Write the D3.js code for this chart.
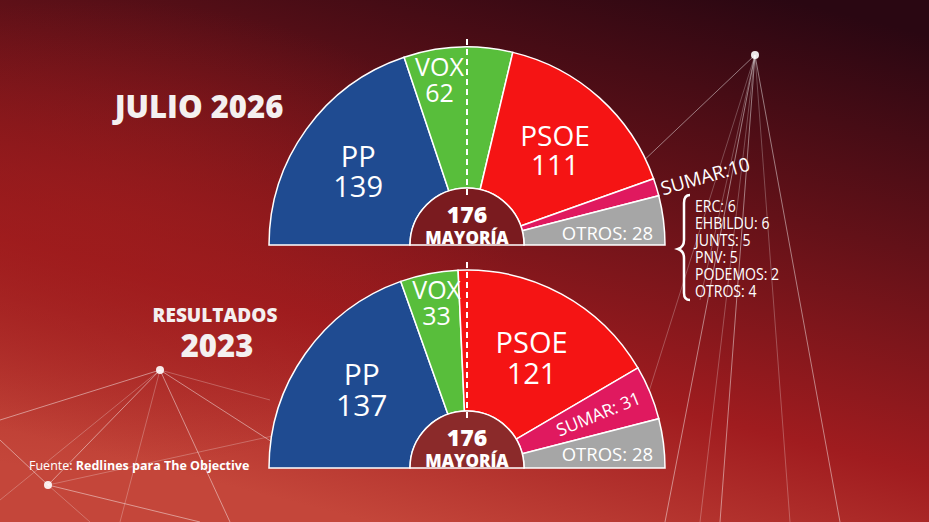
<!DOCTYPE html>
<html>
<head>
<meta charset="utf-8">
<script src="https://cdn.jsdelivr.net/npm/d3@7"></script>
<style>
  body { margin: 0; background: #5a1016; }
  svg { display: block; font-family: "Open Sans", sans-serif; }
</style>
</head>
<body>
<div id="chart"></div>
<script>
// seats per party, left to right around the hemicycle
var parties = ["PP", "VOX", "PSOE", "SUMAR", "OTROS"];
var colors = ["#1f4b91", "#58be3b", "#f51414", "#e0195f", "#a6a6a6"];
var seats2026 = [139, 62, 111, 10, 28];
var seats2023 = [137, 33, 121, 31, 28];
var majority = 176;

// breakdown of "OTROS" in the 2026 estimate
var otrosNames = ["ERC", "EHBILDU", "JUNTS", "PNV", "PODEMOS", "OTROS"];
var otrosSeats = [6, 6, 5, 5, 2, 4];

var svgWidth = 929;
var svgHeight = 522;

var svg = d3.select("#chart")
    .append("svg")
    .attr("width", svgWidth)
    .attr("height", svgHeight);

// background
var defs = svg.append("defs");
var bg = defs.append("linearGradient")
    .attr("id", "bg")
    .attr("x1", "0.85").attr("y1", "0")
    .attr("x2", "0.4").attr("y2", "1");
bg.append("stop").attr("offset", "0").attr("stop-color", "#2a0712");
bg.append("stop").attr("offset", "0.35").attr("stop-color", "#631118");
bg.append("stop").attr("offset", "0.7").attr("stop-color", "#a01c1f");
bg.append("stop").attr("offset", "1").attr("stop-color", "#c4463a");

var glow = defs.append("radialGradient")
    .attr("id", "glow")
    .attr("cx", "0.1").attr("cy", "0.45").attr("r", "0.45");
glow.append("stop").attr("offset", "0").attr("stop-color", "#9e1c1c").attr("stop-opacity", 0.7);
glow.append("stop").attr("offset", "1").attr("stop-color", "#9e1c1c").attr("stop-opacity", 0);

svg.append("rect").attr("width", svgWidth).attr("height", svgHeight).attr("fill", "url(#bg)");
svg.append("rect").attr("width", svgWidth).attr("height", svgHeight).attr("fill", "url(#glow)");

// decorative network lines
var net = svg.append("g").attr("stroke", "#ffffff").attr("fill", "none");
var hubs = [
    {x: 755, y: 55, ends: [[560, 240], [640, 420], [665, 522], [700, 522], [720, 522], [790, 522], [840, 522], [700, 300]]},
    {x: 160, y: 370, ends: [[0, 420], [0, 500], [48, 485], [270, 400], [230, 522], [120, 522], [300, 460]]},
    {x: 48, y: 485, ends: [[0, 440], [90, 522], [200, 522], [300, 430]]}
];
hubs.forEach(function(h) {
    h.ends.forEach(function(e, i) {
        net.append("line")
            .attr("x1", h.x).attr("y1", h.y)
            .attr("x2", e[0]).attr("y2", e[1])
            .attr("stroke-opacity", i % 2 ? 0.25 : 0.45)
            .attr("stroke-width", 1);
    });
    net.append("circle").attr("cx", h.x).attr("cy", h.y).attr("r", 4)
        .attr("fill", "#ffffff").attr("stroke", "none").attr("opacity", 0.9);
});

var outerR = 198;
var innerR = 57;

var pie = d3.pie()
    .sort(null)
    .value(d => d.seats)
    .startAngle(-Math.PI / 2)
    .endAngle(Math.PI / 2);

var arc = d3.arc()
    .innerRadius(innerR)
    .outerRadius(outerR);

function drawHemicycle(cx, cy, values, opts) {
    var g = svg.append("g").attr("transform", `translate(${cx}, ${cy})`);
    var data = pie(values.map(function(v, i) {
        return {party: parties[i], seats: v, color: colors[i]};
    }));

    g.selectAll(".slice")
        .data(data)
        .enter()
        .append("path")
        .attr("d", arc)
        .attr("fill", d => d.data.color)
        .attr("stroke", "#ffffff")
        .attr("stroke-width", 1.5);

    // majority half disc
    var half = d3.arc().innerRadius(0).outerRadius(innerR)
        .startAngle(-Math.PI / 2).endAngle(Math.PI / 2);
    g.append("path").attr("d", half)
        .attr("fill", opts.centerColor)
        .attr("stroke", "#ffffff").attr("stroke-width", 1.5);

    // dashed majority line
    g.append("line")
        .attr("x1", 0).attr("x2", 0)
        .attr("y1", -outerR - 8).attr("y2", -innerR + 10)
        .attr("stroke", "#ffffff").attr("stroke-width", 2)
        .attr("stroke-dasharray", "6,4");

    g.append("text").attr("x", 0).attr("y", -22)
        .attr("text-anchor", "middle").attr("fill", "#ffffff")
        .attr("font-weight", 800).attr("font-size", 23)
        .text(majority);
    g.append("text").attr("x", 0).attr("y", -1)
        .attr("text-anchor", "middle").attr("fill", "#ffffff")
        .attr("font-weight", 800).attr("font-size", 17)
        .text("MAYORÍA");

    // labels
    data.forEach(function(d) {
        var lab = opts.labels[d.data.party];
        if (!lab) return;
        var mid = (d.startAngle + d.endAngle) / 2 + (lab.da || 0);
        var x = lab.r * Math.sin(mid);
        var y = -lab.r * Math.cos(mid);
        var t = g.append("text")
            .attr("text-anchor", "middle")
            .attr("fill", "#ffffff")
            .attr("font-size", lab.size);
        if (lab.inline) {
            t.attr("transform", `translate(${x}, ${y}) rotate(${lab.rotate ? mid * 180 / Math.PI - 90 : 0})`)
                .attr("dy", "0.36em")
                .text(d.data.party + lab.sep + d.data.seats);
        } else {
            t.attr("transform", `translate(${x}, ${y})`);
            t.append("tspan").attr("x", 0).attr("dy", "-0.18em").text(d.data.party);
            t.append("tspan").attr("x", 0).attr("dy", "1.04em").text(d.data.seats);
        }
    });
    return g;
}

drawHemicycle(467, 245, seats2026, {
    centerColor: "#7a1b1f",
    labels: {
        PP: {r: 131, size: 29, da: -0.034},
        VOX: {r: 167, size: 25, da: -0.121},
        PSOE: {r: 129, size: 28, da: 0.019},
        SUMAR: {r: 248, size: 19, inline: true, rotate: true, sep: ":", da: 0.015},
        OTROS: {r: 141, size: 18.5, inline: true, sep: ": ", da: 0.04}
    }
});

drawHemicycle(467, 468, seats2023, {
    centerColor: "#8b2a2a",
    labels: {
        PP: {r: 131, size: 30, da: 0.023},
        VOX: {r: 167, size: 25, da: 0.01},
        PSOE: {r: 127, size: 29, da: 0.035},
        SUMAR: {r: 142, size: 17.5, inline: true, rotate: true, sep: ": "},
        OTROS: {r: 141, size: 18.5, inline: true, sep: ": ", da: 0.03}
    }
});

// breakdown list with brace
var list = svg.append("g").attr("transform", "translate(695, 0)");
list.append("path")
    .attr("d", "M -5 195 Q -11 195 -11 203 L -11 240 Q -11 247 -17 249 Q -11 251 -11 258 L -11 293 Q -11 300 -5 300")
    .attr("fill", "none").attr("stroke", "#ffffff").attr("stroke-width", 2.5);
var yList = d3.scaleBand().domain(otrosNames.map((d, i) => i)).range([196, 298]);
list.selectAll(".otro")
    .data(otrosNames)
    .enter()
    .append("text")
    .attr("transform", (d, i) => `translate(0, ${yList(i) + yList.bandwidth() - 1.5}) scale(0.88, 1)`)
    .attr("fill", "#ffffff")
    .attr("font-size", 16)
    .text((d, i) => d + ": " + otrosSeats[i]);

// titles
svg.append("text").attr("x", 199).attr("y", 118)
    .attr("text-anchor", "middle").attr("fill", "#f4f0f0")
    .attr("font-weight", 800).attr("font-size", 31)
    .text("JULIO 2026");
svg.append("text").attr("x", 215).attr("y", 322)
    .attr("text-anchor", "middle").attr("fill", "#f4f0f0")
    .attr("font-weight", 800).attr("font-size", 19)
    .text("RESULTADOS");
svg.append("text").attr("x", 217).attr("y", 357)
    .attr("text-anchor", "middle").attr("fill", "#f4f0f0")
    .attr("font-weight", 800).attr("font-size", 31)
    .text("2023");

var src = svg.append("text").attr("x", 29).attr("y", 470)
    .attr("fill", "#ffffff").attr("font-size", 12.5);
src.append("tspan").text("Fuente: ");
src.append("tspan").attr("font-weight", 700).text("Redlines para The Objective");
</script>
</body>
</html>
